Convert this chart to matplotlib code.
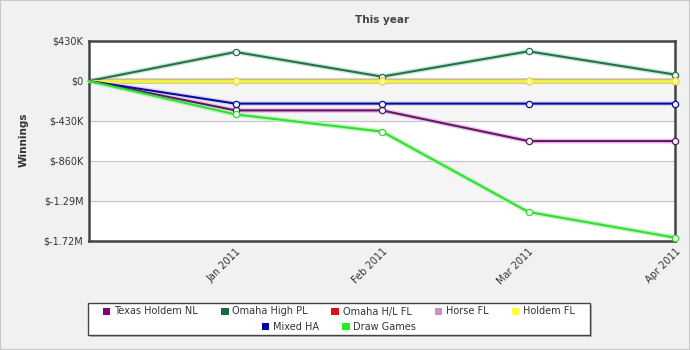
import matplotlib.pyplot as plt
from matplotlib.patches import Patch, Rectangle

# datos (en dolares)
meses = ["", "Jan 2011", "Feb 2011", "Mar 2011", "Apr 2011"]
texas_nl = [0, -316000, -316000, -646000, -646000]
omaha_pl = [0, 312000, 47000, 319000, 69000]
omaha_hl = [0, 0, 0, 0, 0]
horse_fl = [0, 0, 0, 0, 0]
holdem_fl = [0, 0, 0, 0, 0]
mixed_ha = [0, -243000, -243000, -243000, -243000]
draw_games = [0, -359000, -544000, -1408000, -1684000]

y_ticks = [430000, 0, -430000, -860000, -1290000, -1720000]
y_labels = ["$430K", "$0", "$-430K", "$-860K", "$-1.29M", "$-1.72M"]

series = [
    ("Texas Holdem NL", texas_nl, "#5e1a5e", "#eab4ea", "#800080"),
    ("Omaha High PL", omaha_pl, "#2a6e4e", "#b4e4c8", "#0f6f3f"),
    ("Omaha H/L FL", omaha_hl, "#e01010", "#f0b0b0", "#e01010"),
    ("Horse FL", horse_fl, "#c080c0", "#e8c8e8", "#c990cc"),
    ("Holdem FL", holdem_fl, "#f0f040", "#c8c890", "#ffff33"),
    ("Mixed HA", mixed_ha, "#0a0a9a", "#d0d0f0", "#0000aa"),
    ("Draw Games", draw_games, "#33dd33", "#b4f2b4", "#22ee22"),
]

fig = plt.figure(figsize=(6.9, 3.5), dpi=100, facecolor="#f0f1f1")
ax = fig.add_axes([89 / 690, 109 / 350, 586 / 690, 200 / 350])
ax.set_facecolor("white")

x = list(range(len(meses)))

# bandas alternas
for i in range(len(y_ticks) - 1):
    if i % 2 == 1:
        ax.axhspan(y_ticks[i + 1], y_ticks[i], color="#f5f5f5", zorder=0)
for t in y_ticks:
    ax.axhline(t, color="#c4c4c4", lw=0.8, zorder=1)

for nombre, vals, col, glow, _ in series:
    ancho = 2.2 if nombre == "Holdem FL" else 1.5
    ax.plot(x, vals, color=glow, lw=ancho + 2, alpha=0.8, solid_capstyle="round", zorder=2)
    mfc = "#fafa90" if nombre == "Holdem FL" else "#f4fafa"
    ax.plot(x, vals, color=col, lw=ancho, marker="o", markersize=4.5, mfc=mfc,
            mec=col, mew=0.9, markevery=slice(1, None), zorder=3, clip_on=False)

ax.set_xlim(0, len(meses) - 1)
ax.set_ylim(y_ticks[-1], y_ticks[0])
ax.set_yticks(y_ticks)
ax.set_yticklabels(y_labels, fontsize=7, color="#333333")
ax.set_xticks(x)
ax.set_xticklabels(meses, fontsize=7, color="#333333", rotation=45, ha="right",
                   rotation_mode="anchor")
ax.tick_params(length=0, pad=4)
for s in ax.spines.values():
    s.set_color("#444444")
    s.set_linewidth(1.8)

ax.set_title("This year", fontsize=7.5, fontweight="bold", color="#444444", pad=13)
fig.text(24 / 690, 1 - 140 / 350, "Winnings", rotation=90, fontsize=7.5,
         fontweight="bold", color="#333333", ha="center", va="center")

# leyenda: dos filas centradas dentro de un marco con sombra
fig.patches.append(Rectangle((90 / 690, 1 - 337 / 350), 502 / 690, 32 / 350,
                             transform=fig.transFigure, facecolor="#999999",
                             edgecolor="none", alpha=0.6, zorder=0))
fig.patches.append(Rectangle((88 / 690, 1 - 335 / 350), 502 / 690, 32 / 350,
                             transform=fig.transFigure, facecolor="white",
                             edgecolor="#444444", lw=1, zorder=1))
handles = [Patch(facecolor=c, edgecolor="none", label=n) for n, _, _, _, c in series]
opts = dict(frameon=False, fontsize=7, handlelength=0.75, handleheight=0.75,
            handletextpad=0.4, columnspacing=2.4, borderpad=0, loc="center")
leg1 = fig.legend(handles=handles[:5], ncol=5, bbox_to_anchor=(339 / 690, 1 - 311.5 / 350), **opts)
leg2 = fig.legend(handles=handles[5:], ncol=2, bbox_to_anchor=(339 / 690, 1 - 327 / 350), **opts)
for leg in (leg1, leg2):
    for t in leg.get_texts():
        t.set_color("#333333")

fig.patches.append(Rectangle((0, 0), 1, 1, transform=fig.transFigure, fill=False,
                             edgecolor="#c8c8c8", lw=1.5))

fig.savefig("out.png", dpi=100, facecolor=fig.get_facecolor())
